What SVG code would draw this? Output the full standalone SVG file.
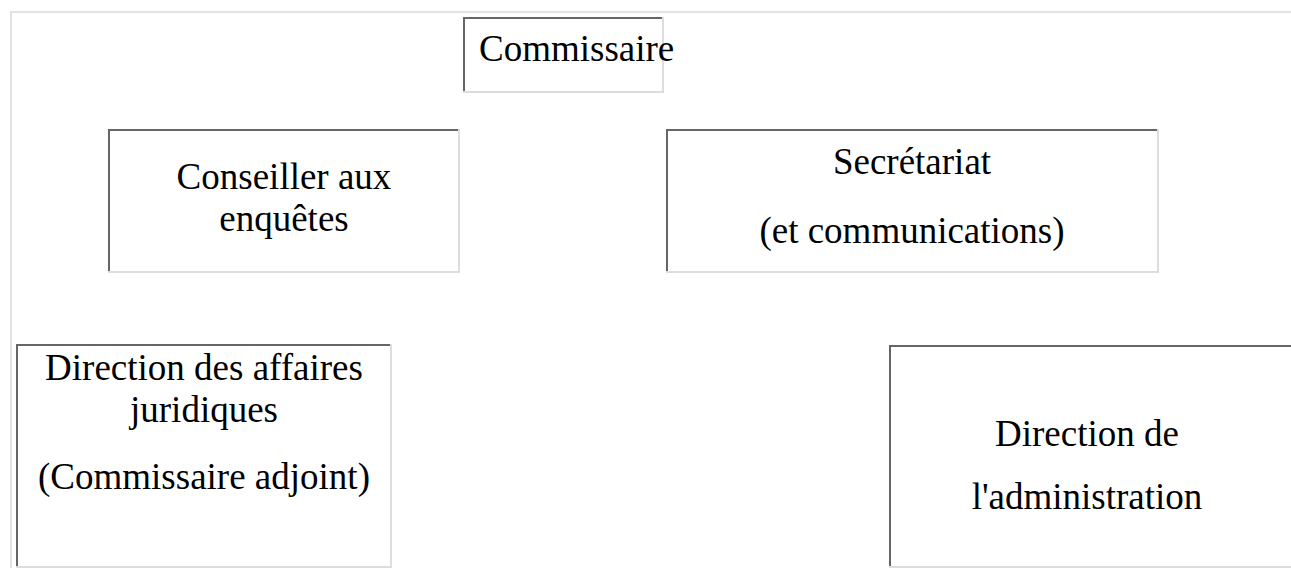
<svg xmlns="http://www.w3.org/2000/svg" width="1291" height="568" viewBox="0 0 1291 568">
<style>
.dk{fill:#666666}
.lt{fill:#dddddd}
.fr{fill:#e2e2e2}
text{font-family:"Liberation Serif","Times New Roman",serif;font-size:37px;fill:#000}
.c{text-anchor:middle}
</style>
<rect width="1291" height="568" fill="#ffffff"/>
<g id="frame">
<rect class="fr" x="10" y="11" width="1281" height="2"/>
<rect class="fr" x="10" y="11" width="2" height="557"/>
</g>
<g id="connectors"></g>
<g id="commissaire">
<rect class="dk" x="463" y="17" width="201" height="2"/>
<rect class="dk" x="463" y="17" width="2" height="76"/>
<rect class="lt" x="662" y="17" width="2" height="76"/>
<rect class="lt" x="463" y="91" width="201" height="2"/>
<text x="479" y="61">Commissaire</text>
</g>
<g id="conseiller">
<rect class="dk" x="108" y="129" width="352" height="2"/>
<rect class="dk" x="108" y="129" width="2" height="144"/>
<rect class="lt" x="458" y="129" width="2" height="144"/>
<rect class="lt" x="108" y="271" width="352" height="2"/>
<text class="c" x="284" y="189">Conseiller aux</text>
<text class="c" x="284" y="231">enquêtes</text>
</g>
<g id="secretariat">
<rect class="dk" x="666" y="129" width="493" height="2"/>
<rect class="dk" x="666" y="129" width="2" height="144"/>
<rect class="lt" x="1157" y="129" width="2" height="144"/>
<rect class="lt" x="666" y="271" width="493" height="2"/>
<text class="c" x="912" y="174">Secrétariat</text>
<text class="c" x="912" y="243">(et communications)</text>
</g>
<g id="affaires-juridiques">
<rect class="dk" x="16" y="344" width="376" height="2"/>
<rect class="dk" x="16" y="344" width="2" height="224"/>
<rect class="lt" x="390" y="344" width="2" height="224"/>
<rect class="lt" x="16" y="566" width="376" height="2"/>
<text class="c" x="204" y="380">Direction des affaires</text>
<text class="c" x="204" y="422">juridiques</text>
<text class="c" x="204" y="489">(Commissaire adjoint)</text>
</g>
<g id="administration">
<rect class="dk" x="889" y="345" width="402" height="2"/>
<rect class="dk" x="889" y="345" width="2" height="223"/>
<rect class="lt" x="889" y="566" width="402" height="2"/>
<text class="c" x="1087" y="446">Direction de</text>
<text class="c" x="1087" y="509">l'administration</text>
</g>
</svg>
